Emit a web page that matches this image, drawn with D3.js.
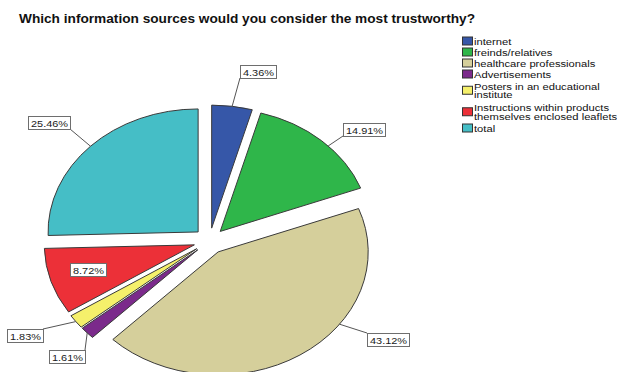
<!DOCTYPE html>
<html>
<head>
<meta charset="utf-8">
<script src="https://cdn.jsdelivr.net/npm/d3@7"></script>
<style>
  body { margin: 0; background: #fff; }
  svg { display: block; font-family: "Liberation Sans", Arial, sans-serif; }
</style>
</head>
<body>
<div id="chart"></div>
<script>
// data
var categories = ["internet", "freinds/relatives", "healthcare professionals", "Advertisements",
    "Posters in an educational institute", "Instructions within products themselves enclosed leaflets", "total"];
var percents = [4.36, 14.91, 43.12, 1.61, 1.83, 8.72, 25.46];
var colors = ["#3657a8", "#2fb64a", "#d5cf9b", "#7b2a8b", "#f5f06b", "#ec3038", "#45bec6"];

// layout
var width = 617, height = 372;
var cx = 209.5, cy = 241, radius = 123, stretch = 1.22, explode = 13;
// label box top-left corners (null = inside the slice), and leader anchor angles in degrees (null = mid angle)
var labelBoxes = [[240, 65], [343, 123], [367, 333], [49, 350], [7, 329], null, [28, 116]];
var anchorDeg = [null, 46, 126, null, null, null, null];

var svg = d3.select("#chart").append("svg")
        .attr("width", width)
        .attr("height", height);

svg.append("text")
        .attr("x", 19)
        .attr("y", 23)
        .attr("font-size", "13px")
        .attr("font-weight", "bold")
        .attr("fill", "#111")
        .attr("textLength", 456)
        .attr("lengthAdjust", "spacingAndGlyphs")
        .text("Which information sources would you consider the most trustworthy?");

var pie = d3.pie().sort(null).value(function(d) { return d; }).startAngle(0).endAngle(2 * Math.PI);
var arcs = pie(percents);
var arc = d3.arc().innerRadius(0).outerRadius(radius);

function midAngle(d) { return (d.startAngle + d.endAngle) / 2; }

// point on the (stretched, exploded) slice at angle a and distance rr from its apex
function slicePoint(d, a, rr) {
    var m = midAngle(d);
    return [cx + stretch * (Math.sin(m) * explode + Math.sin(a) * rr),
            cy - Math.cos(m) * explode - Math.cos(a) * rr];
}

var pieG = svg.append("g")
        .attr("transform", "translate(" + cx + "," + cy + ") scale(" + stretch + ",1)");

pieG.selectAll("path")
        .data(arcs)
        .enter().append("path")
        .attr("d", arc)
        .attr("transform", function(d) {
            var m = midAngle(d);
            return "translate(" + (Math.sin(m) * explode) + "," + (-Math.cos(m) * explode) + ")";
        })
        .attr("fill", function(d, i) { return colors[i]; })
        .attr("stroke", "#3a3a3a")
        .attr("stroke-width", 1)
        .attr("vector-effect", "non-scaling-stroke");

// value labels
var labelG = svg.append("g");
arcs.forEach(function(d, i) {
    var txt = percents[i].toFixed(2) + "%";
    var g = labelG.append("g");
    var rect = g.append("rect")
            .attr("fill", "#fff")
            .attr("stroke", "#6e6e6e")
            .attr("stroke-width", 1);
    var t = g.append("text")
            .attr("font-size", "9.5px")
            .attr("fill", "#1a1a1a")
            .text(txt);
    var tw = t.node().getComputedTextLength() * 1.15;
    var bw = Math.round(tw + 5), bh = 13;
    var bx, by;
    if (labelBoxes[i]) {
        bx = labelBoxes[i][0];
        by = labelBoxes[i][1];
        var a = anchorDeg[i] == null ? midAngle(d) : anchorDeg[i] * Math.PI / 180;
        var p = slicePoint(d, a, radius);
        var corners = [[bx, by], [bx + bw, by], [bx, by + bh], [bx + bw, by + bh]];
        var best = corners[0], bd = Infinity;
        corners.forEach(function(c) {
            var dd = (c[0] - p[0]) * (c[0] - p[0]) + (c[1] - p[1]) * (c[1] - p[1]);
            if (dd < bd) { bd = dd; best = c; }
        });
        labelG.insert("line", ":first-child")
                .attr("x1", p[0]).attr("y1", p[1])
                .attr("x2", best[0]).attr("y2", best[1])
                .attr("stroke", "#555")
                .attr("stroke-width", 1);
    } else {
        var c = slicePoint(d, midAngle(d), radius * 0.74);
        bx = Math.round(c[0] - bw / 2);
        by = Math.round(c[1] - bh / 2) - 3;
    }
    rect.attr("x", bx + 0.5).attr("y", by + 0.5).attr("width", bw).attr("height", bh);
    t.attr("transform", "translate(" + (bx + 3) + "," + (by + 10.5) + ") scale(1.15,1)");
});

// legend
function wrap(s, maxChars) {
    var words = s.split(" "), lines = [], cur = "";
    words.forEach(function(w) {
        var next = cur ? cur + " " + w : w;
        if (next.length > maxChars && cur) { lines.push(cur); cur = w; }
        else { cur = next; }
    });
    lines.push(cur);
    return lines;
}

var legend = svg.append("g");
var ly = 35.5;
categories.forEach(function(name, i) {
    var lines = wrap(name, 28);
    var h = 11 + (lines.length - 1) * 10.5;
    var center = ly + h / 2;
    legend.append("rect")
            .attr("x", 462.5)
            .attr("y", center - 4)
            .attr("width", 10)
            .attr("height", 8)
            .attr("fill", colors[i])
            .attr("stroke", "#333")
            .attr("stroke-width", 1);
    var first = center - (lines.length - 1) * 8.5 / 2;
    lines.forEach(function(line, k) {
        legend.append("text")
                .attr("transform", "translate(474," + (first + k * 8.5 + 3.5) + ") scale(1.18,1)")
                .attr("font-size", "9.5px")
                .attr("fill", "#111")
                .text(line);
    });
    ly += h;
});
</script>
</body>
</html>
